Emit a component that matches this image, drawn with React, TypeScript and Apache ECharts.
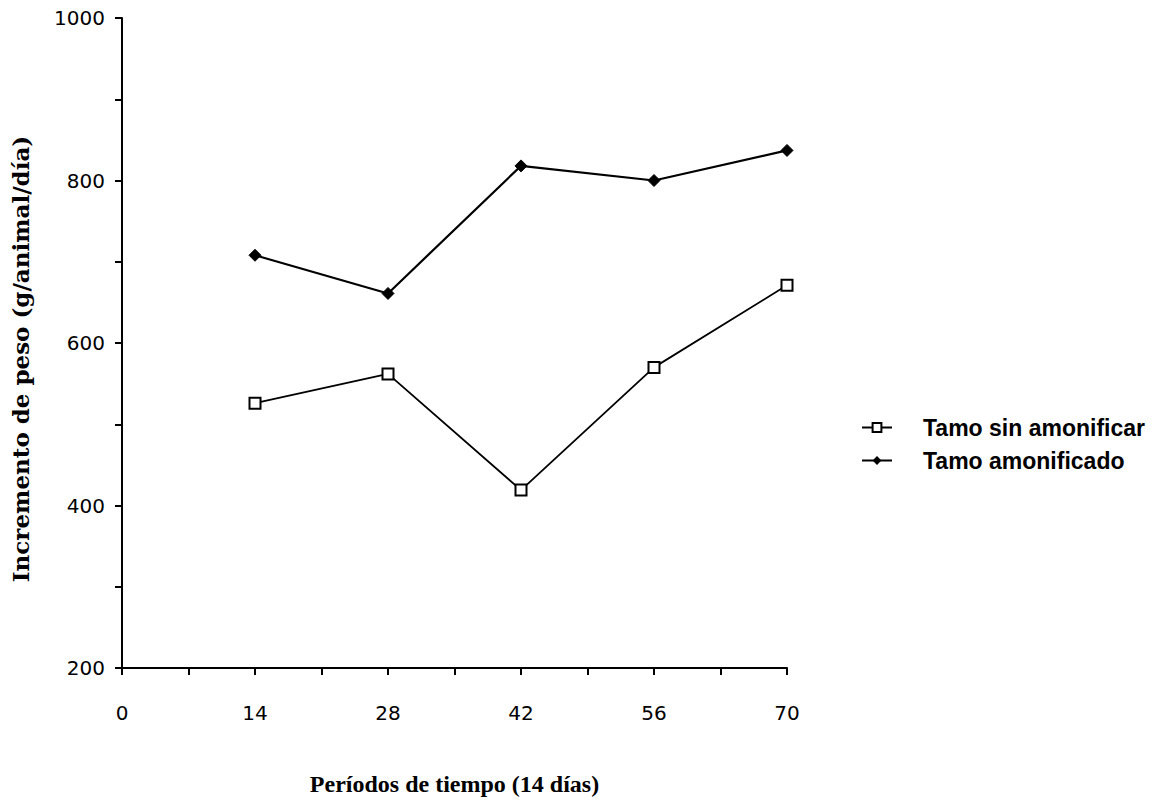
import React, { useEffect, useRef } from "react";
import * as echarts from "echarts";

const periods = [14, 28, 42, 56, 70];
const sinAmonificar = [526, 562, 419, 570, 671];
const amonificado = [708, 661, 818, 800, 837];
const seriesNames = ["Tamo sin amonificar", "Tamo amonificado"];
const xTitle = "Períodos de tiempo (14 días)";
const yTitle = "Incremento de peso (g/animal/día)";

export default function App() {
  const ref = useRef<HTMLDivElement>(null);
  useEffect(() => {
    if (!ref.current) return;
    const chart = echarts.init(ref.current, null, { renderer: "svg" });
    const axisLine = { show: true, lineStyle: { color: "#000", width: 2 } };
    chart.setOption({
      animation: false,
      backgroundColor: "#fff",
      grid: { left: 122, top: 18, right: 372, bottom: 134 },
      legend: {
        orient: "vertical",
        left: 856,
        top: 411,
        itemWidth: 30,
        itemHeight: 11,
        itemGap: 10,
        data: seriesNames,
        textStyle: {
          fontFamily: "Liberation Sans, Arial, sans-serif",
          fontWeight: "bold",
          fontSize: 23,
          lineHeight: 23,
          color: "#000",
          padding: [0, 0, 0, 26],
        },
      },
      graphic: [
        {
          type: "text",
          x: 20,
          y: 359,
          rotation: Math.PI / 2,
          style: {
            text: yTitle,
            align: "center",
            verticalAlign: "middle",
            fontFamily: "DejaVu Serif, serif",
            fontWeight: "bold",
            fontSize: 23,
            fill: "#000",
          },
        },
      ],
      xAxis: {
        type: "value",
        min: 0,
        max: 70,
        interval: 7,
        splitLine: { show: false },
        axisLine,
        axisTick: { show: true, length: 7, lineStyle: { color: "#000", width: 2 } },
        axisLabel: {
          margin: 35,
          fontFamily: "DejaVu Sans, sans-serif",
          fontSize: 20,
          color: "#000",
          formatter: (v: number) => (v % 14 === 0 ? String(v) : ""),
        },
        name: xTitle,
        nameLocation: "middle",
        nameGap: 104,
        nameTextStyle: {
          fontFamily: "Liberation Serif, serif",
          fontWeight: "bold",
          fontSize: 24,
          color: "#000",
        },
      },
      yAxis: {
        type: "value",
        min: 200,
        max: 1000,
        interval: 100,
        splitLine: { show: false },
        axisLine,
        axisTick: { show: true, length: 7, lineStyle: { color: "#000", width: 2 } },
        axisLabel: {
          margin: 17,
          fontFamily: "DejaVu Sans, sans-serif",
          fontSize: 20,
          color: "#000",
          formatter: (v: number) => (v % 200 === 0 ? String(v) : ""),
        },
      },
      series: [
        {
          name: seriesNames[0],
          type: "line",
          data: periods.map((p, i) => [p, sinAmonificar[i]]),
          symbol: "rect",
          symbolSize: 11,
          itemStyle: { color: "#fff", borderColor: "#000", borderWidth: 2 },
          lineStyle: { color: "#000", width: 1.8 },
        },
        {
          name: seriesNames[1],
          type: "line",
          data: periods.map((p, i) => [p, amonificado[i]]),
          symbol: "diamond",
          symbolSize: 12,
          itemStyle: { color: "#000", borderColor: "#000" },
          lineStyle: { color: "#000", width: 2.2 },
        },
      ],
    });
    return () => chart.dispose();
  }, []);
  return <div ref={ref} style={{ width: 1159, height: 802, position: "absolute", left: 0, top: 0 }} />;
}
